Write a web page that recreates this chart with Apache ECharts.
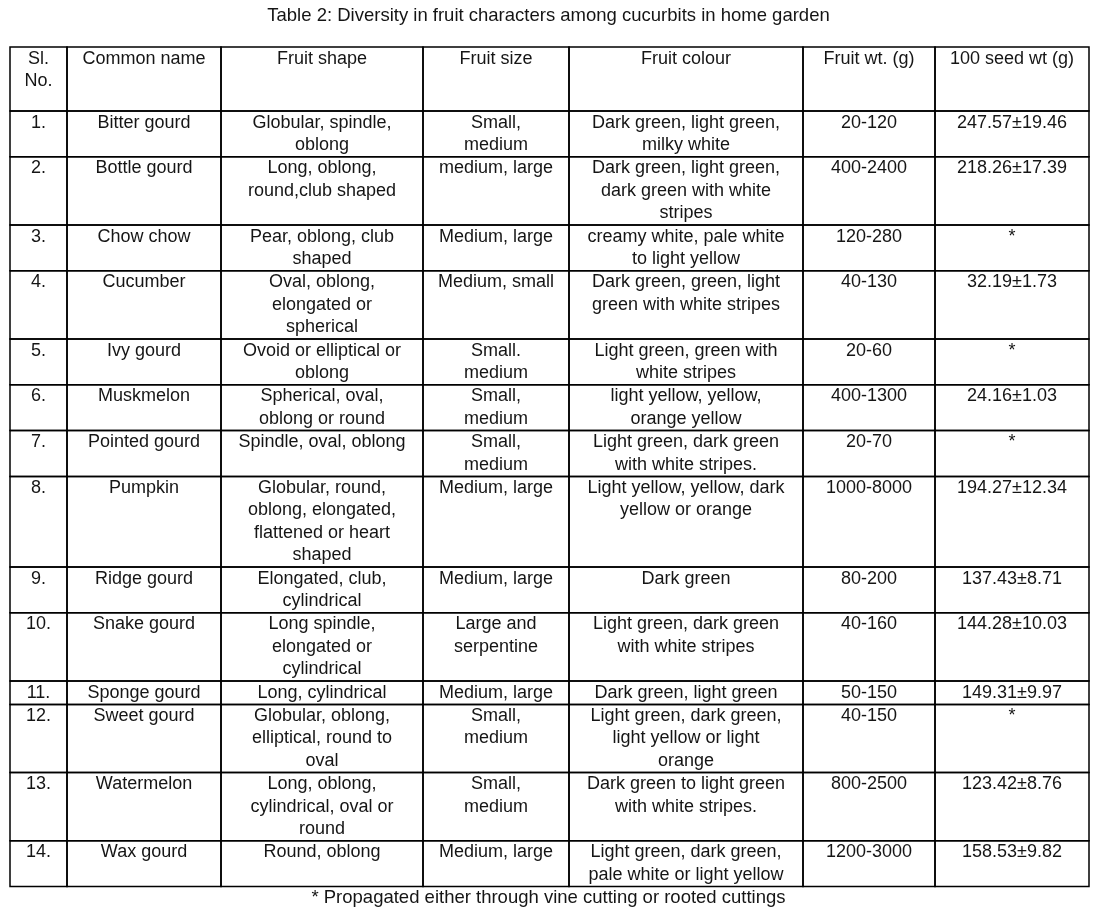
<!DOCTYPE html>
<html>
<head>
<meta charset="utf-8">
<script src="https://cdn.jsdelivr.net/npm/echarts@6/dist/echarts.min.js"></script>
<style>
  html, body { margin: 0; padding: 0; background: #fff; }
  #chart { width: 1097px; height: 916px; }
</style>
</head>
<body>
<div id="chart"></div>
<script>
// ---------- data ----------
const titleText = 'Table 2: Diversity in fruit characters among cucurbits in home garden';
const footnoteText = '* Propagated either through vine cutting or rooted cuttings';
const headers = ['Sl.\nNo.', 'Common name', 'Fruit shape', 'Fruit size', 'Fruit colour', 'Fruit wt. (g)', '100 seed wt (g)'];
const slNo = ['1.', '2.', '3.', '4.', '5.', '6.', '7.', '8.', '9.', '10.', '11.', '12.', '13.', '14.'];
const commonNames = ['Bitter gourd', 'Bottle gourd', 'Chow chow', 'Cucumber', 'Ivy gourd', 'Muskmelon', 'Pointed gourd', 'Pumpkin', 'Ridge gourd', 'Snake gourd', 'Sponge gourd', 'Sweet gourd', 'Watermelon', 'Wax gourd'];
const fruitShape = [
  'Globular, spindle,\noblong',
  'Long, oblong,\nround,club shaped',
  'Pear, oblong, club\nshaped',
  'Oval, oblong,\nelongated or\nspherical',
  'Ovoid or elliptical or\noblong',
  'Spherical, oval,\noblong or round',
  'Spindle, oval, oblong',
  'Globular, round,\noblong, elongated,\nflattened or heart\nshaped',
  'Elongated, club,\ncylindrical',
  'Long spindle,\nelongated or\ncylindrical',
  'Long, cylindrical',
  'Globular, oblong,\nelliptical, round to\noval',
  'Long, oblong,\ncylindrical, oval or\nround',
  'Round, oblong'
];
const fruitSize = ['Small,\nmedium', 'medium, large', 'Medium, large', 'Medium, small', 'Small.\nmedium', 'Small,\nmedium', 'Small,\nmedium', 'Medium, large', 'Medium, large', 'Large and\nserpentine', 'Medium, large', 'Small,\nmedium', 'Small,\nmedium', 'Medium, large'];
const fruitColour = [
  'Dark green, light green,\nmilky white',
  'Dark green, light green,\ndark green with white\nstripes',
  'creamy white, pale white\nto light yellow',
  'Dark green, green, light\ngreen with white stripes',
  'Light green, green with\nwhite stripes',
  'light yellow, yellow,\norange yellow',
  'Light green, dark green\nwith white stripes.',
  'Light yellow, yellow, dark\nyellow or orange',
  'Dark green',
  'Light green, dark green\nwith white stripes',
  'Dark green, light green',
  'Light green, dark green,\nlight yellow or light\norange',
  'Dark green to light green\nwith white stripes.',
  'Light green, dark green,\npale white or light yellow'
];
const fruitWt = ['20-120', '400-2400', '120-280', '40-130', '20-60', '400-1300', '20-70', '1000-8000', '80-200', '40-160', '50-150', '40-150', '800-2500', '1200-3000'];
const seedWt = ['247.57±19.46', '218.26±17.39', '*', '32.19±1.73', '*', '24.16±1.03', '*', '194.27±12.34', '137.43±8.71', '144.28±10.03', '149.31±9.97', '*', '123.42±8.76', '158.53±9.82'];

// ---------- layout ----------
const W = 1097, H = 916;
const colEdges = [10, 67, 221, 423, 569, 803, 935, 1089];
const tableTop = 47;
const headerHeight = 64;
const lineH = 22.4;
const FONT = '"Liberation Sans", Arial, sans-serif';
const FS = 18;
const TXT = '#151515';

const columns = [slNo, commonNames, fruitShape, fruitSize, fruitColour, fruitWt, seedWt];
const rows = [headers];
for (let r = 0; r < slNo.length; r++) rows.push(columns.map(c => c[r]));

// row edges from number of text lines in each row
const rowEdges = [tableTop, tableTop + headerHeight];
for (let r = 1; r < rows.length; r++) {
  const n = Math.max(...rows[r].map(t => String(t).split('\n').length));
  rowEdges.push(rowEdges[rowEdges.length - 1] + n * lineH + 1);
}

const cellData = [];
rows.forEach((row, ri) => row.forEach((txt, ci) => cellData.push([ci, ri, txt])));

const chart = echarts.init(document.getElementById('chart'), null, { renderer: 'canvas' });
chart.setOption({
  animation: false,
  backgroundColor: '#fff',
  title: [
    { text: titleText, left: 'center', top: 1, textStyle: { fontFamily: FONT, fontSize: 18.5, fontWeight: 'normal', color: TXT } },
    { text: footnoteText, left: 'center', top: rowEdges[rowEdges.length - 1] - 3, textStyle: { fontFamily: FONT, fontSize: 18.5, fontWeight: 'normal', color: TXT } }
  ],
  grid: { left: 0, right: 0, top: 0, bottom: 0 },
  xAxis: { type: 'value', min: 0, max: W, show: false },
  yAxis: { type: 'value', min: 0, max: H, inverse: true, show: false },
  series: [{
    type: 'custom',
    coordinateSystem: 'cartesian2d',
    data: cellData,
    encode: { x: 0, y: 1 },
    renderItem: function (params, api) {
      const ci = api.value(0), ri = api.value(1);
      const txt = cellData[params.dataIndex][2];
      const p0 = api.coord([colEdges[ci], rowEdges[ri]]);
      const p1 = api.coord([colEdges[ci + 1], rowEdges[ri + 1]]);
      return {
        type: 'group',
        children: [
          { type: 'rect', shape: { x: p0[0], y: p0[1], width: p1[0] - p0[0], height: p1[1] - p0[1] },
            style: { fill: 'none', stroke: '#000', lineWidth: 1.5 } },
          { type: 'text', style: { text: txt, x: (p0[0] + p1[0]) / 2, y: p0[1] + 0.5, align: 'center', verticalAlign: 'top',
            fontFamily: FONT, fontSize: FS, lineHeight: lineH, fill: TXT } }
        ]
      };
    }
  }]
});
</script>
</body>
</html>
